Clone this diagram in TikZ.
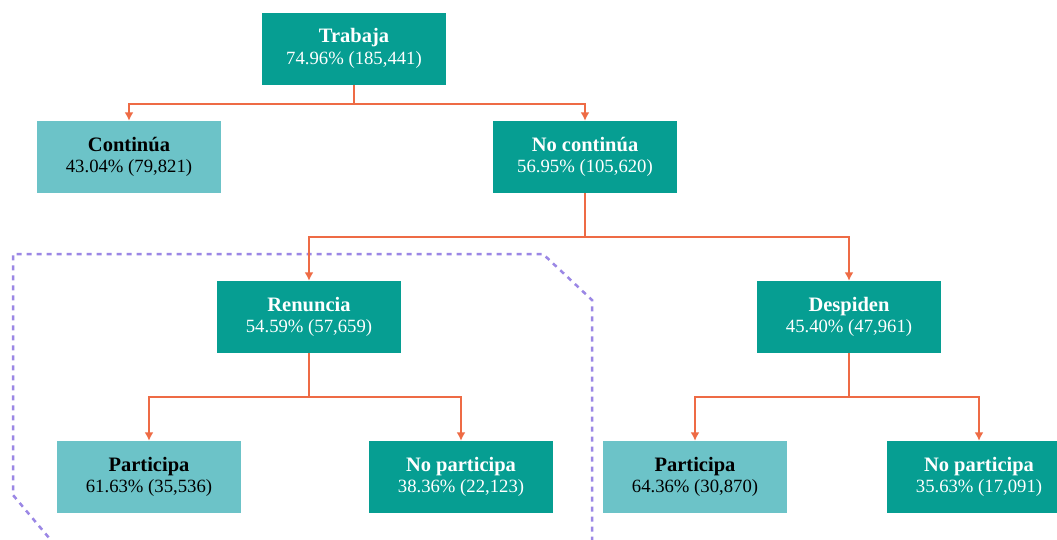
\documentclass[tikz,border=0pt]{standalone}
\usepackage{fontspec}
\setmainfont{Liberation Serif}
\usetikzlibrary{arrows.meta}
\definecolor{darkteal}{HTML}{069E92}
\definecolor{lightteal}{HTML}{6CC3C8}
\definecolor{conn}{HTML}{EE6B45}
\definecolor{dotc}{HTML}{9B87E5}
\newcommand\hd[1]{{\fontsize{20.5}{21.6}\selectfont\bfseries #1}}
\tikzset{
  box/.style={minimum width=184pt, minimum height=72pt, inner sep=0pt, align=center, font=\fontsize{18.7}{21.6}\selectfont},
  darkbox/.style={box, fill=darkteal, text=white},
  lightbox/.style={box, fill=lightteal, text=black},
  arr/.style={draw=conn, line width=2pt, -{Latex[length=8.5pt,width=9pt]}},
  region/.style={draw=dotc, line width=2.5pt, dash pattern=on 5pt off 5pt}
}
\begin{document}
\begin{tikzpicture}[x=1pt,y=-1pt]
\useasboundingbox (0,0) rectangle (1057,539);
\clip (0,0) rectangle (1057,539);
\fill[white] (0,0) rectangle (1057,539);
\draw[region] (55,545) -- (13,495) -- (13,254) -- (543,254) -- (592,300) -- (592,545);
\node[darkbox] (t) at (354,48.5) {\hd{Trabaja}\\74.96\% (185,441)};
\node[lightbox] (c) at (129,157) {\hd{Continúa}\\43.04\% (79,821)};
\node[darkbox] (nc) at (585,157) {\hd{No continúa}\\56.95\% (105,620)};
\node[darkbox] (r) at (309,317) {\hd{Renuncia}\\54.59\% (57,659)};
\node[darkbox] (d) at (849,317) {\hd{Despiden}\\45.40\% (47,961)};
\node[lightbox] (p1) at (149,477) {\hd{Participa}\\61.63\% (35,536)};
\node[darkbox] (np1) at (461,477) {\hd{No participa}\\38.36\% (22,123)};
\node[lightbox] (p2) at (695,477) {\hd{Participa}\\64.36\% (30,870)};
\node[darkbox] (np2) at (979,477) {\hd{No participa}\\35.63\% (17,091)};
\draw[arr] (t.south) -- ++(0,19) -| (c.north);
\draw[arr] (t.south) -- ++(0,19) -| (nc.north);
\draw[arr] (nc.south) -- ++(0,44) -| (r.north);
\draw[arr] (nc.south) -- ++(0,44) -| (d.north);
\draw[arr] (r.south) -- ++(0,44) -| (p1.north);
\draw[arr] (r.south) -- ++(0,44) -| (np1.north);
\draw[arr] (d.south) -- ++(0,44) -| (p2.north);
\draw[arr] (d.south) -- ++(0,44) -| (np2.north);
\end{tikzpicture}
\end{document}
